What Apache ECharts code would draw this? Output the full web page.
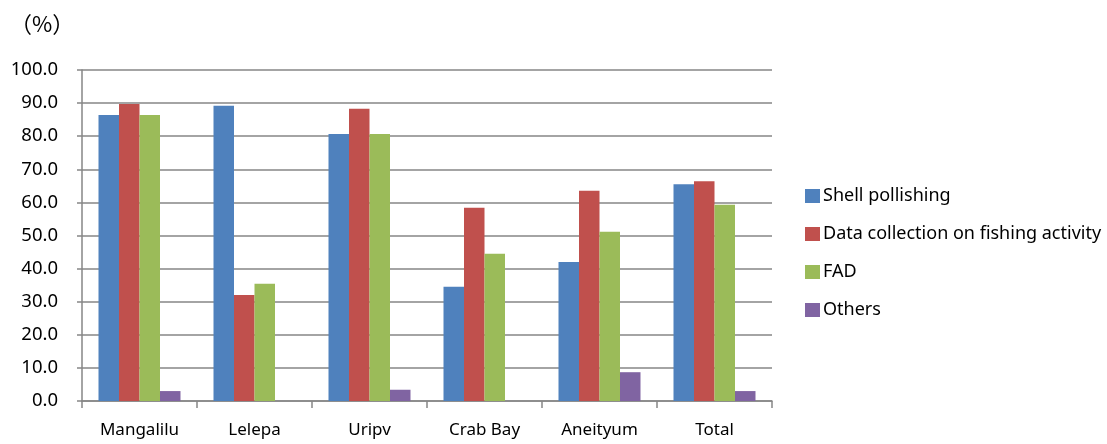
<!DOCTYPE html>
<html>
<head>
<meta charset="utf-8">
<script src="https://cdn.jsdelivr.net/npm/echarts@6/dist/echarts.min.js"></script>
<style>
  html, body { margin: 0; padding: 0; background: #fff; }
  #chart { width: 1107px; height: 444px; }
</style>
</head>
<body>
<div id="chart"></div>
<script>
// Share of respondents by site and activity (%)
const sites = ['Mangalilu', 'Lelepa', 'Uripv', 'Crab Bay', 'Aneityum', 'Total'];
const shellPolishing = [86.4, 89.2, 80.7, 34.5, 42.0, 65.5];
const dataCollection = [89.7, 32.0, 88.3, 58.4, 63.5, 66.4];
const fad = [86.4, 35.4, 80.7, 44.5, 51.1, 59.3];
const others = [3.0, 0, 3.4, 0, 8.7, 3.0];
const yTicks = { min: 0, max: 100, step: 10 };

const font = '"Noto Sans", "DejaVu Sans", sans-serif';
const chart = echarts.init(document.getElementById('chart'), null, { renderer: 'canvas' });

function bar(name, values, color) {
  return {
    name, type: 'bar', data: values,
    barGap: '0%', barCategoryGap: '28.7%',
    itemStyle: { color },
    emphasis: { disabled: true }
  };
}

chart.setOption({
  animation: false,
  backgroundColor: '#fff',
  textStyle: { fontFamily: font },
  graphic: [{
    type: 'text', left: 10, top: 13,
    style: { text: '（%）', fontSize: 22, fontFamily: '"Noto Sans CJK JP"', fill: '#000' }
  }],
  legend: {
    orient: 'vertical', left: 805, top: 187, padding: 0,
    itemWidth: 15, itemHeight: 14, itemGap: 20,
    icon: 'rect',
    textStyle: { fontSize: 18, color: '#000', fontFamily: font, padding: [0, 0, 0, -2] },
    data: ['Shell pollishing', 'Data collection on fishing activity', 'FAD', 'Others']
  },
  grid: { left: 82, right: 335, top: 70, bottom: 43, containLabel: false },
  xAxis: {
    type: 'category', data: sites,
    axisLine: { lineStyle: { color: '#868686', width: 1.5 } },
    axisTick: { show: true, length: 7, lineStyle: { color: '#868686', width: 1.5 } },
    axisLabel: { color: '#000', fontSize: 17, margin: 21, fontFamily: font }
  },
  yAxis: {
    type: 'value', min: yTicks.min, max: yTicks.max, interval: yTicks.step,
    axisLine: { show: true, lineStyle: { color: '#868686', width: 1.5 } },
    axisTick: { show: true, length: 5, lineStyle: { color: '#868686', width: 1.5 } },
    splitLine: { lineStyle: { color: '#868686', width: 1.5 } },
    axisLabel: { color: '#000', fontSize: 18.5, margin: 24, fontFamily: font,
      formatter: v => v.toFixed(1) }
  },
  series: [
    bar('Shell pollishing', shellPolishing, '#4F81BD'),
    bar('Data collection on fishing activity', dataCollection, '#C0504D'),
    bar('FAD', fad, '#9BBB59'),
    bar('Others', others, '#8064A2')
  ]
});
</script>
</body>
</html>
